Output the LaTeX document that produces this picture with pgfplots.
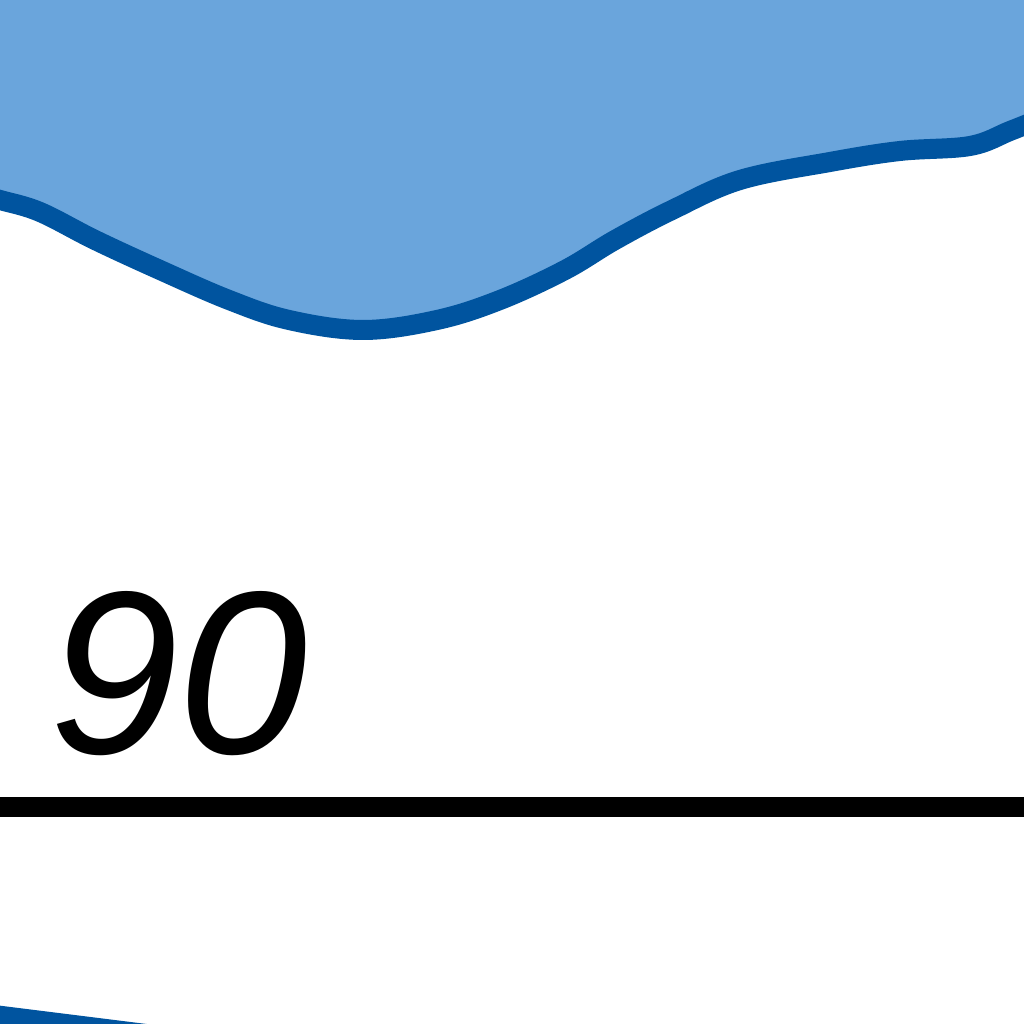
\documentclass[border=0pt]{standalone}
\usepackage{fontspec}
\setmainfont{Liberation Sans}
\usepackage{pgfplots}
\pgfplotsset{compat=1.18}
\definecolor{lightblue}{RGB}{106,165,220}
\definecolor{darkblue}{RGB}{0,84,159}
\begin{document}
\begin{tikzpicture}
\begin{axis}[
  width=10cm, height=10cm, scale only axis,
  xmin=0, xmax=1024, ymin=0, ymax=1024,
  axis line style={draw=none}, ticks=none,
  clip=true,
]
% filled area above the curve
\addplot[draw=none, fill=lightblue] coordinates {
 (-30,1100) (-30,832) (0,824) (40,812) (95,784) (160,754) (229,724) (289,704)
 (363,694) (437,704) (500,724) (565,754) (615,784) (672,814) (740,844)
 (830,862) (900,873) (970,878) (1010,893) (1040,905) (1040,1100)
};
% curve line
\addplot[darkblue, line width=5.56pt, smooth, tension=0.6] coordinates {
 (-30,832) (0,824) (40,812) (95,784) (160,754) (229,724) (289,704)
 (363,694) (437,704) (500,724) (565,754) (615,784) (672,814) (740,844)
 (830,862) (900,873) (970,878) (1010,893) (1040,905)
};
% black horizontal line
\addplot[black, line width=5.56pt] coordinates {(-30,217) (1060,217)};
% bottom-left blue line
\addplot[darkblue, line width=5pt] coordinates {(-30,13) (250,-22)};
\node[anchor=base west, inner sep=0pt, font=\fontsize{64.5}{70}\selectfont\itshape] at (axis cs:49,270) {90};
\end{axis}
\end{tikzpicture}
\end{document}
